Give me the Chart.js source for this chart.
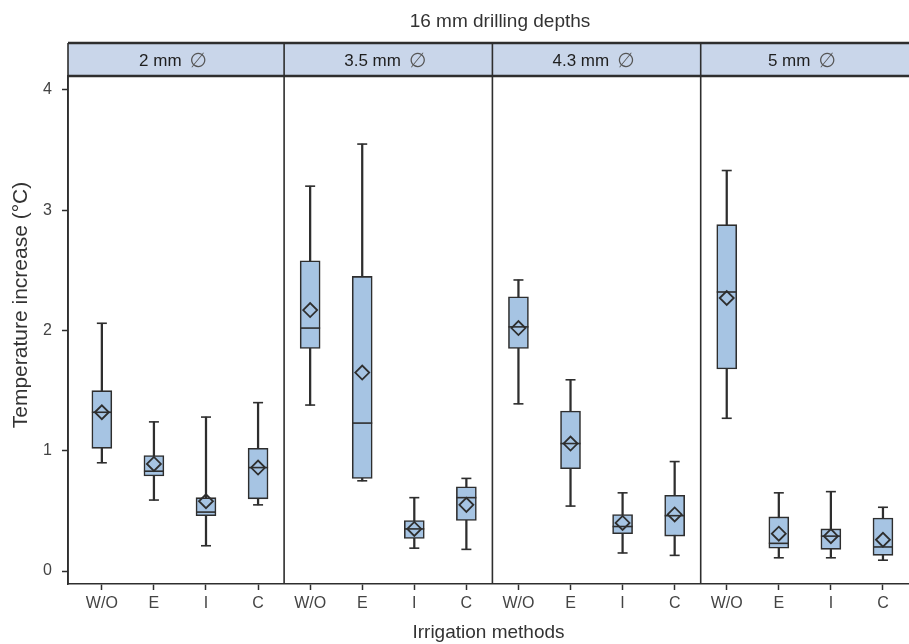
<!DOCTYPE html>
<html>
<head>
<meta charset="utf-8">
<script src="https://cdn.jsdelivr.net/npm/chart.js@4.4.1/dist/chart.umd.min.js"></script>
<style>
  html, body { margin: 0; padding: 0; background: #fff; }
</style>
</head>
<body>
<canvas id="chart" width="909" height="644"></canvas>
<script>
// drill diameters (panels) and irrigation methods (boxes inside each panel)
const groups = ['2 mm', '3.5 mm', '4.3 mm', '5 mm'];
const methods = ['W/O', 'E', 'I', 'C'];
const yTicks = [0, 1, 2, 3, 4];

// box plot statistics, 16 boxes: panel by panel, W/O, E, I, C
const whiskerLow  = [0.90, 0.59, 0.21, 0.55,  1.38, 0.75, 0.19, 0.18,  1.39, 0.54, 0.15, 0.13,  1.27, 0.11, 0.11, 0.09];
const q1          = [1.02, 0.79, 0.46, 0.60,  1.85, 0.77, 0.27, 0.42,  1.85, 0.85, 0.31, 0.29,  1.68, 0.19, 0.18, 0.13];
const median      = [1.32, 0.83, 0.49, 0.86,  2.02, 1.23, 0.35, 0.61,  2.03, 1.06, 0.37, 0.46,  2.32, 0.23, 0.29, 0.20];
const q3          = [1.50, 0.96, 0.61, 1.02,  2.58, 2.45, 0.42, 0.70,  2.28, 1.33, 0.47, 0.63,  2.88, 0.45, 0.35, 0.44];
const whiskerHigh = [2.06, 1.24, 1.28, 1.40,  3.20, 3.55, 0.61, 0.77,  2.42, 1.59, 0.65, 0.91,  3.33, 0.65, 0.66, 0.53];
const mean        = [1.32, 0.89, 0.58, 0.86,  2.17, 1.65, 0.35, 0.55,  2.02, 1.06, 0.40, 0.47,  2.27, 0.31, 0.29, 0.26];

const labels = groups.flatMap(() => methods);
const xs = labels.map((_, i) => i);

const ink = '#2e2e2e';
const boxBlue = '#a6c4e3';
const stripBlue = '#c9d6ea';
const font = 'Liberation Sans, Arial, sans-serif';

// panel strips, separators and free text (title, y title)
const facets = {
  id: 'facets',
  afterDraw(chart) {
    const { ctx, chartArea: a, scales: { x } } = chart;
    const stripTop = a.top - 33;
    const edges = [a.left];
    for (let k = 1; k < groups.length; k++) edges.push(x.getPixelForValue(k * methods.length - 0.5));
    edges.push(a.right);

    ctx.save();
    ctx.fillStyle = stripBlue;
    ctx.fillRect(a.left, stripTop, a.right - a.left, a.top - stripTop);

    ctx.strokeStyle = ink;
    ctx.lineWidth = 2.5;
    ctx.beginPath();
    ctx.moveTo(a.left, stripTop); ctx.lineTo(a.right, stripTop);
    ctx.moveTo(a.left, a.top); ctx.lineTo(a.right, a.top);
    ctx.stroke();

    ctx.lineWidth = 1.6;
    ctx.beginPath();
    edges.slice(0, -1).forEach(e => { ctx.moveTo(e, stripTop); ctx.lineTo(e, a.bottom); });
    ctx.stroke();

    // strip labels
    ctx.textBaseline = 'alphabetic';
    ctx.textAlign = 'left';
    groups.forEach((g, k) => {
      const cx = (edges[k] + edges[k + 1]) / 2 - 3;
      ctx.font = '17px ' + font;
      const w1 = ctx.measureText(g).width;
      ctx.font = '20px DejaVu Sans';
      const w2 = ctx.measureText('\u2205').width;
      const start = cx - (w1 + 8 + w2) / 2;
      ctx.font = '17px ' + font;
      ctx.fillStyle = '#1e1e1e';
      ctx.fillText(g, start, stripTop + 23);
      ctx.font = '20px DejaVu Sans';
      ctx.fillStyle = '#555';
      ctx.fillText('\u2205', start + w1 + 8, stripTop + 24);
    });

    // chart title
    ctx.font = '19px ' + font;
    ctx.fillStyle = '#333';
    ctx.textAlign = 'center';
    ctx.fillText('16 mm drilling depths', 500, 27);

    // y axis title
    ctx.translate(27, 305);
    ctx.rotate(-Math.PI / 2);
    ctx.font = '21px ' + font;
    ctx.fillText('Temperature increase (\u00B0C)', 0, 0);
    ctx.restore();
  }
};

new Chart(document.getElementById('chart'), {
  type: 'bar',
  data: {
    datasets: [
      {
        label: 'whisker',
        data: xs.map(i => ({ x: i, y: [whiskerLow[i], whiskerHigh[i]] })),
        backgroundColor: ink,
        borderWidth: 0,
        barThickness: 1.6,
        grouped: false,
        order: 5
      },
      {
        label: 'box',
        data: xs.map(i => ({ x: i, y: [q1[i], q3[i]] })),
        backgroundColor: boxBlue,
        borderColor: ink,
        borderWidth: 1.6,
        borderSkipped: false,
        barThickness: 20,
        grouped: false,
        order: 4
      },
      {
        type: 'scatter',
        label: 'mean',
        data: xs.map(i => ({ x: i, y: mean[i] })),
        pointStyle: 'rectRot',
        radius: 7,
        backgroundColor: 'rgba(0,0,0,0)',
        borderColor: ink,
        borderWidth: 1.8,
        order: 3
      },
      {
        type: 'scatter',
        label: 'median',
        data: xs.map(i => ({ x: i, y: median[i] })),
        pointStyle: 'line',
        radius: 10,
        borderColor: ink,
        borderWidth: 1.6,
        order: 2
      },
      {
        type: 'scatter',
        label: 'caps',
        data: xs.flatMap(i => [{ x: i, y: whiskerLow[i] }, { x: i, y: whiskerHigh[i] }]),
        pointStyle: 'line',
        radius: 5,
        borderColor: ink,
        borderWidth: 1.6,
        order: 1
      }
    ]
  },
  options: {
    responsive: false,
    animation: false,
    events: [],
    layout: { autoPadding: false, padding: { top: 76, left: 0, right: 0, bottom: 0 } },
    plugins: { legend: { display: false }, tooltip: { enabled: false }, title: { display: false } },
    scales: {
      x: {
        type: 'linear',
        offset: false,
        min: -0.65,
        max: 15.5,
        afterBuildTicks: s => { s.ticks = xs.map(v => ({ value: v })); },
        afterFit: s => { s.height = 60; s.paddingLeft = 0; s.paddingRight = 0; },
        ticks: {
          autoSkip: false,
          maxRotation: 0,
          padding: 4,
          color: '#444',
          font: { family: font, size: 16 },
          callback: v => labels[v]
        },
        grid: { offset: false, drawOnChartArea: false, tickLength: 6, tickColor: ink, tickWidth: 1.5 },
        border: { display: true, color: ink, width: 1.6 },
        title: {
          display: true,
          text: 'Irrigation methods',
          color: '#333',
          font: { family: font, size: 19 },
          padding: { top: 0, bottom: 0 }
        }
      },
      y: {
        min: -0.108,
        max: 4.116,
        afterBuildTicks: s => { s.ticks = yTicks.map(v => ({ value: v })); },
        afterFit: s => { s.width = 68; },
        ticks: { padding: 10, color: '#444', font: { family: font, size: 16 } },
        grid: { drawOnChartArea: false, tickLength: 6, tickColor: ink, tickWidth: 1.5 },
        border: { display: true, color: ink, width: 1.6 }
      }
    }
  },
  plugins: [facets]
});
</script>
</body>
</html>
